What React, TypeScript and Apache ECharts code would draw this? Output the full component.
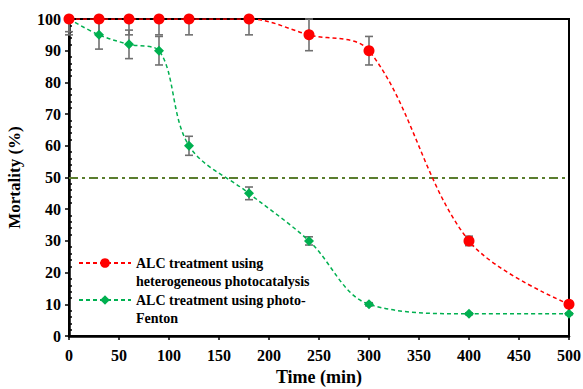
import React, { useEffect, useRef } from "react";
import * as echarts from "echarts";

const times = [0, 30, 60, 90, 120, 180, 240, 300, 400, 500];
const photocatalysis = [100, 100, 100, 100, 100, 100, 95, 90, 30, 10];
const photocatalysisErr = [5, 5, 5, 5, 5, 5, 5, 4.5, 1.5, 0];
const photoFenton = [100, 95, 92, 90, 60, 45, 30, 10, 7, 7];
const photoFentonErr = [4, 4.5, 4.5, 4.5, 3, 2, 1.3, 0.5, 0.3, 0.3];
const threshold = 50;
const name1 = "ALC treatment using\nheterogeneous photocatalysis";
const name2 = "ALC treatment using photo-\nFenton";

const FONT = "Liberation Serif";

function errorRender(params: any, api: any) {
  const x = api.value(0);
  const y = api.value(1);
  const e = api.value(2);
  if (!e) return null;
  const cs = params.coordSys;
  const top = api.coord([x, y + e]);
  const bot = api.coord([x, y - e]);
  const style = { stroke: "#707070", lineWidth: 1.6 };
  const children: any[] = [];
  let ty = top[1];
  const clipped = ty < cs.y;
  if (clipped) ty = cs.y;
  children.push({ type: "line", shape: { x1: top[0], y1: ty, x2: bot[0], y2: bot[1] }, style });
  if (!clipped) children.push({ type: "line", shape: { x1: top[0] - 4, y1: ty, x2: top[0] + 4, y2: ty }, style });
  children.push({ type: "line", shape: { x1: bot[0] - 4, y1: bot[1], x2: bot[0] + 4, y2: bot[1] }, style });
  return { type: "group", children };
}

export default function App() {
  const ref = useRef<HTMLDivElement>(null);
  useEffect(() => {
    const chart = echarts.init(ref.current!, null, { renderer: "svg" });
    const s1 = times.map((t, i) => [t, photocatalysis[i]]);
    const s2 = times.map((t, i) => [t, photoFenton[i]]);
    const e1 = times.map((t, i) => [t, photocatalysis[i], photocatalysisErr[i]]);
    const e2 = times.map((t, i) => [t, photoFenton[i], photoFentonErr[i]]);
    chart.setOption({
      animation: false,
      backgroundColor: "#fff",
      grid: {
        left: 69,
        right: 14,
        top: 19,
        bottom: 53,
        outerBoundsMode: "none",
        containLabel: false,
        show: true,
        borderColor: "#000",
        borderWidth: 2,
        backgroundColor: "transparent",
      },
      legend: {
        left: 78,
        top: 236,
        padding: 0,
        orient: "vertical",
        itemWidth: 52,
        itemHeight: 12,
        itemGap: -17,
        data: [name1, name2],
        formatter: (n: string) => "\n" + n,
        textStyle: { fontFamily: FONT, fontWeight: "bold", fontSize: 14, color: "#000", lineHeight: 18 },
      },
      xAxis: {
        type: "value",
        min: 0,
        max: 500,
        interval: 50,
        name: "Time (min)",
        nameLocation: "middle",
        nameGap: 32,
        nameTextStyle: { fontFamily: FONT, fontWeight: "bold", fontSize: 18, color: "#000" },
        axisLine: { show: true, lineStyle: { color: "#000", width: 2.5 } },
        axisTick: { show: true, length: 4, lineStyle: { color: "#000", width: 1.5 } },
        axisLabel: { fontFamily: FONT, fontWeight: "bold", fontSize: 16, color: "#000", margin: 11 },
        splitLine: { show: false },
      },
      yAxis: [
        {
          type: "value",
          min: 0,
          max: 100,
          interval: 10,
          name: "Mortality (%)",
          nameLocation: "middle",
          nameGap: 46,
          nameTextStyle: { fontFamily: FONT, fontWeight: "bold", fontSize: 17, color: "#000" },
          axisLine: { show: true, lineStyle: { color: "#000", width: 2.5 } },
          axisTick: { show: true, length: 4, lineStyle: { color: "#000", width: 1.5 } },
          axisLabel: { fontFamily: FONT, fontWeight: "bold", fontSize: 16, color: "#000", margin: 8 },
          splitLine: { show: false },
        },
        {
          type: "value",
          min: 0,
          max: 100,
          interval: 10,
          position: "left",
          axisLine: { show: false },
          axisTick: { show: false, inside: true },
          axisLabel: { show: false },
          minorTick: { show: true, splitNumber: 5, length: 3, lineStyle: { color: "#000", width: 1.5 } },
          splitLine: { show: false },
        },
      ],
      series: [
        {
          type: "custom",
          name: "err1",
          renderItem: errorRender,
          data: e1,
          encode: { x: 0, y: 1 },
          z: 3,
          silent: true,
        },
        {
          type: "custom",
          name: "err2",
          renderItem: errorRender,
          data: e2,
          encode: { x: 0, y: 1 },
          z: 3,
          silent: true,
        },
        {
          type: "line",
          name: name2,
          data: s2,
          smooth: 0.35,
          symbol: "diamond",
          symbolSize: 10,
          lineStyle: { color: "#00b050", width: 1.5, type: [4, 3] },
          itemStyle: { color: "#00b050" },
          z: 4,
          markLine: {
            silent: true,
            symbol: "none",
            label: { show: false },
            lineStyle: { color: "#5a7d2e", width: 1.8, type: [9, 4, 3, 4] },
            data: [{ yAxis: threshold }],
          },
        },
        {
          type: "line",
          name: name1,
          data: s1,
          smooth: 0.35,
          symbol: "circle",
          symbolSize: 11,
          lineStyle: { color: "#ff0000", width: 1.5, type: [4, 3] },
          itemStyle: { color: "#ff0000" },
          z: 5,
        },
      ],
    });
    return () => chart.dispose();
  }, []);
  return <div ref={ref} style={{ width: 583, height: 389, position: "absolute", left: 0, top: 0 }} />;
}
